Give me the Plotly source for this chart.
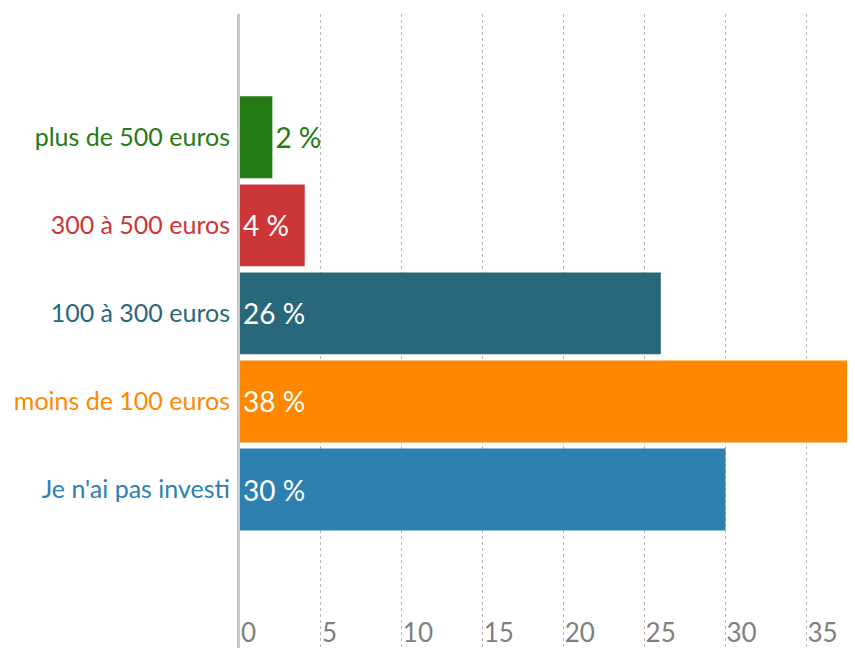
import plotly.graph_objects as go

# categories, bottom to top
categories = ["Je n'ai pas investi", "moins de 100 euros", "100 à 300 euros",
              "300 à 500 euros", "plus de 500 euros"]
values = [30, 38, 26, 4, 2]
labels = ["30 %", "38 %", "26 %", "4 %", "2 %"]
colors = ["#2e80b1", "#ff8800", "#29687a", "#cc3636", "#247b14"]
x_ticks = [0, 5, 10, 15, 20, 25, 30, 35]

font_family = "Lato, sans-serif"

ticktext = ['<span style="color:%s">%s</span>' % (c, n) for c, n in zip(colors, categories)]
text_pos = ["inside" if v > 3 else "outside" for v in values]
text_col = ["white" if v > 3 else c for v, c in zip(values, colors)]

fig = go.Figure(go.Bar(
    x=values,
    y=categories,
    orientation="h",
    marker=dict(color=colors, line=dict(width=0)),
    text=labels,
    textposition=text_pos,
    insidetextanchor="start",
    textfont=dict(family=font_family, size=28, color=text_col),
    constraintext="none",
    cliponaxis=False,
    hoverinfo="skip",
))

# page body keeps its 8px default margin, so the figure is sized to fit the rest
fig.update_layout(
    width=847, height=640,
    margin=dict(l=232, r=0, t=6, b=0),
    plot_bgcolor="white", paper_bgcolor="white",
    bargap=0.07,
    showlegend=False,
    font=dict(family=font_family),
)

fig.update_xaxes(
    range=[0, 38],
    tickvals=x_ticks,
    ticktext=[str(t) for t in x_ticks],
    ticklabelposition="inside right",
    ticklabelstandoff=-5,
    ticklabelshift=1,
    tickfont=dict(size=26, color="#808080"),
    showgrid=True, gridcolor="#b8b8b8", griddash="dot", gridwidth=1,
    zeroline=False, showline=False,
    automargin=False,
)

fig.update_yaxes(
    type="category",
    categoryorder="array", categoryarray=categories,
    range=[-1.8, 5.4],
    tickvals=categories,
    ticktext=ticktext,
    tickfont=dict(size=25),
    ticklabelstandoff=2,
    showgrid=False, zeroline=False,
    showline=True, linecolor="#c8c8c8", linewidth=3,
    automargin=False,
)

fig.write_html("out.html")
